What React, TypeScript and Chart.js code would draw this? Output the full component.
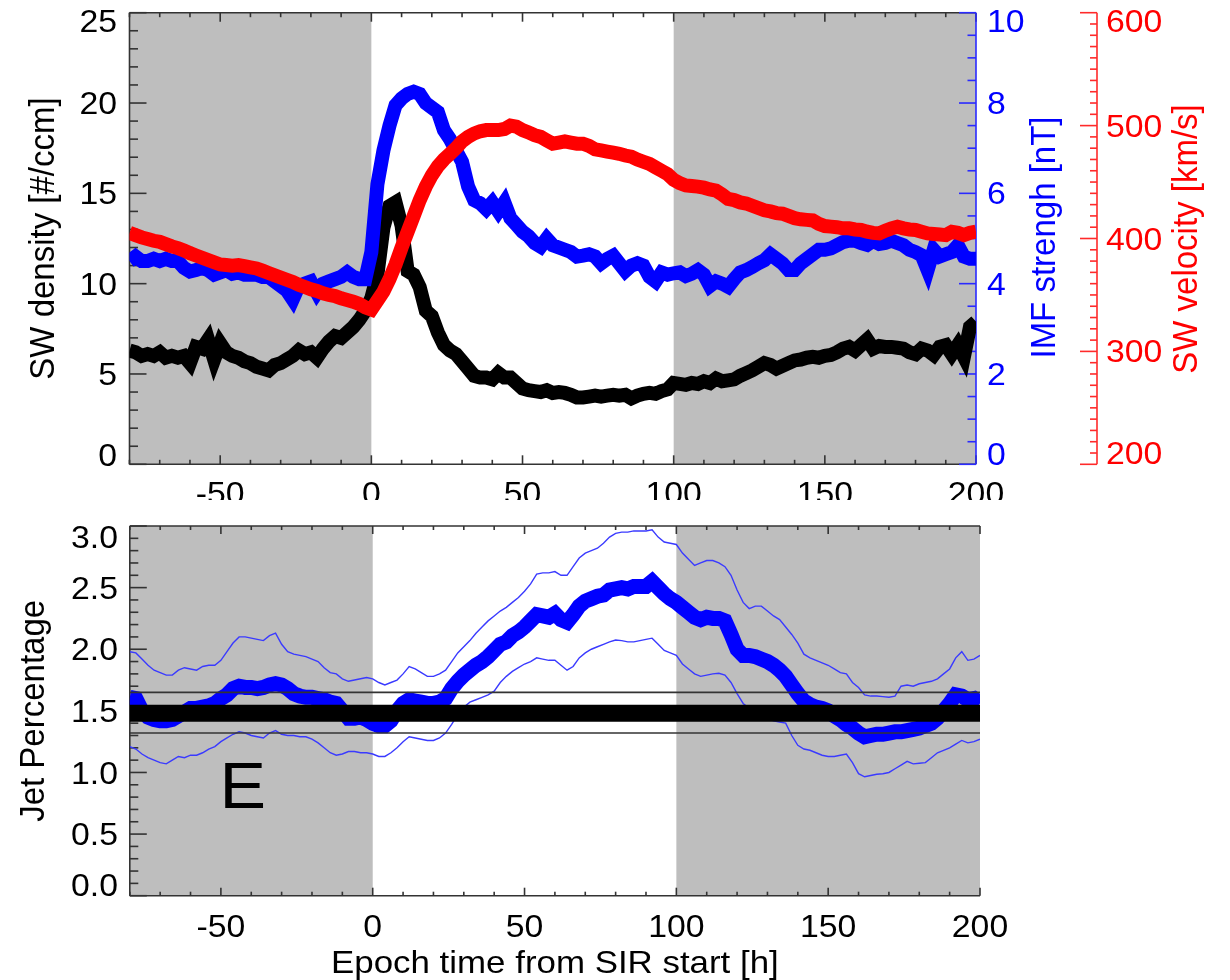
import React, { useEffect, useRef } from "react";
import { Chart, registerables } from "chart.js";

Chart.register(...registerables);

// Superposed-epoch grid: hours from SIR start, 2 h cadence (-80 ... 200)
const T_START = -80;
const T_STEP = 2;

// Solar-wind density [#/ccm]
const DENSITY = [
  6.3, 6.2, 6.0, 6.1, 6.0, 6.2, 5.9, 6.0, 5.9, 6.0,
  5.6, 6.5, 6.4, 6.9, 5.8, 6.7, 6.2, 6.0, 5.9, 5.7,
  5.6, 5.4, 5.3, 5.2, 5.5, 5.6, 5.8, 6.0, 6.3, 6.1,
  6.2, 5.9, 6.4, 6.8, 7.1, 7.0, 7.3, 7.6, 8.0, 8.5,
  9.2, 10.5, 13.1, 14.3, 14.5, 13.2, 10.7, 10.5, 9.8, 8.5,
  8.2, 7.3, 6.6, 6.3, 6.1, 5.7, 5.3, 4.9, 4.8, 4.8,
  4.7, 5.05, 4.8, 4.8, 4.5, 4.2, 4.1, 4.05, 4.0, 4.1,
  3.95, 4.0, 3.95, 3.85, 3.7, 3.7, 3.75, 3.8, 3.75, 3.8,
  3.85, 3.8, 3.85, 3.65, 3.8, 3.9, 3.95, 3.9, 4.05, 4.15,
  4.5, 4.45, 4.4, 4.5, 4.45, 4.6, 4.5, 4.75, 4.6, 4.65,
  4.7, 4.9, 5.05, 5.2, 5.4, 5.6, 5.5, 5.3, 5.45, 5.6,
  5.75, 5.8, 5.9, 5.95, 5.9, 6.0, 6.05, 6.2, 6.4, 6.5,
  6.3, 6.6, 6.9, 6.4, 6.55, 6.5, 6.5, 6.45, 6.4, 6.2,
  6.1, 6.4, 6.3, 6.05, 6.5, 6.6, 6.1, 6.6, 5.95, 7.6,
  7.9,
];

// IMF strength [nT]
const IMF = [
  4.5, 4.6, 4.5, 4.5, 4.55, 4.5, 4.55, 4.5, 4.5, 4.35,
  4.27, 4.3, 4.35, 4.3, 4.2, 4.25, 4.3, 4.22, 4.25, 4.2,
  4.2, 4.2, 4.15, 4.15, 4.05, 3.95, 3.85, 3.65, 3.95, 4.0,
  4.05, 3.8, 4.0, 4.05, 4.1, 4.15, 4.25, 4.15, 4.1, 4.1,
  4.7, 6.2, 6.95, 7.5, 7.95, 8.1, 8.2, 8.25, 8.2, 8.0,
  7.9, 7.8, 7.4, 7.2, 6.95, 6.7, 6.15, 5.85, 5.78, 5.65,
  5.8, 5.6, 5.8, 5.45, 5.3, 5.15, 5.05, 4.9, 4.82, 5.0,
  4.85, 4.8, 4.75, 4.7, 4.6, 4.62, 4.65, 4.6, 4.45, 4.55,
  4.62, 4.45, 4.28, 4.4, 4.45, 4.4, 4.15, 4.05, 4.25, 4.2,
  4.23, 4.25, 4.17, 4.22, 4.3, 4.2, 3.95, 4.05, 4.0, 3.93,
  4.1, 4.25, 4.3, 4.37, 4.45, 4.52, 4.65, 4.55, 4.45, 4.3,
  4.3, 4.45, 4.55, 4.65, 4.75, 4.75, 4.78, 4.85, 4.92, 4.95,
  4.95, 4.9, 4.86, 4.95, 4.88, 4.9, 4.95, 4.9, 4.85, 4.75,
  4.7, 4.63, 4.3, 4.75, 4.6, 4.65, 4.7, 4.85, 4.6, 4.55,
  4.55,
];

// Solar-wind velocity [km/s]
const VELOCITY = [
  405, 403, 401, 399.5, 398, 397, 395, 393, 391.5, 389.5,
  387, 385, 383, 381, 379, 377, 376.5, 376, 376.5, 375.5,
  374.5, 373.5, 371.5, 369.5, 367.5, 365.5, 363.5, 361.5, 359, 357,
  355, 353.5, 351.5, 350, 349, 347, 345.5, 344, 342, 339,
  337, 345, 353, 364, 377, 392, 406, 420, 434, 446,
  456, 464, 470, 475, 480, 486, 490, 493, 495, 496,
  496, 496, 497, 500, 499, 496, 494, 491.5, 490, 487,
  484, 485, 486, 485, 484, 484, 482, 479, 478, 477,
  476, 475, 473.5, 472.5, 470, 468, 466, 463, 460, 457,
  452, 449, 447, 446.5, 446, 445, 443.5, 442.5, 439, 435,
  434, 432, 431, 429, 427, 425, 424, 422.5, 422, 420,
  418, 417, 416.5, 416, 413, 411, 410.5, 410, 409, 409,
  408, 407.5, 406, 405, 404.5, 407, 409, 410.5, 409, 408,
  407.5, 406, 404.5, 404, 403.5, 403, 406, 405, 403, 405,
  406,
];

// Jet percentage: epoch mean and its upper / lower envelope
const JET_MEAN = [
  1.61, 1.6, 1.5, 1.45, 1.43, 1.42, 1.42, 1.43, 1.46, 1.49,
  1.52, 1.52, 1.53, 1.54, 1.56, 1.6, 1.63, 1.68, 1.7, 1.69,
  1.69, 1.68, 1.69, 1.71, 1.72, 1.71, 1.68, 1.64, 1.62, 1.61,
  1.61, 1.6, 1.59, 1.57, 1.56, 1.5, 1.44, 1.44, 1.45, 1.43,
  1.4, 1.38, 1.38, 1.42, 1.5, 1.56, 1.59, 1.58, 1.57, 1.56,
  1.56, 1.57, 1.6, 1.68, 1.74, 1.79, 1.83, 1.87, 1.9, 1.94,
  1.99, 2.04, 2.06, 2.11, 2.14, 2.18, 2.23, 2.28, 2.27, 2.26,
  2.29, 2.24, 2.22, 2.28, 2.35, 2.39, 2.41, 2.43, 2.44, 2.48,
  2.49, 2.5, 2.49, 2.51, 2.51, 2.51, 2.55, 2.5, 2.45, 2.41,
  2.38, 2.34, 2.3, 2.26, 2.24, 2.26, 2.25, 2.25, 2.23, 2.12,
  2.0, 1.95, 1.95, 1.94, 1.92, 1.9, 1.87, 1.83, 1.78, 1.71,
  1.64, 1.58, 1.55, 1.53, 1.52, 1.5, 1.46, 1.43, 1.39, 1.36,
  1.32, 1.29, 1.3, 1.31, 1.31, 1.32, 1.33, 1.33, 1.34, 1.35,
  1.36, 1.38, 1.4, 1.44, 1.5, 1.56, 1.63, 1.62, 1.59, 1.6,
  1.56,
];

const JET_UPPER = [
  1.98, 1.97, 1.92, 1.87, 1.83, 1.81, 1.79, 1.79, 1.83, 1.85,
  1.84, 1.83, 1.86, 1.87, 1.87, 1.91, 1.98, 2.05, 2.1, 2.1,
  2.09, 2.08, 2.07, 2.11, 2.13, 2.04, 1.98, 1.96, 1.95, 1.94,
  1.92, 1.9, 1.85, 1.81, 1.8, 1.76, 1.74, 1.75, 1.76, 1.77,
  1.76, 1.73, 1.71, 1.73, 1.75, 1.8, 1.86, 1.84, 1.81, 1.78,
  1.78, 1.8, 1.83, 1.9, 1.97, 2.02, 2.07, 2.13, 2.18, 2.23,
  2.27, 2.31, 2.34, 2.38, 2.42, 2.47, 2.53, 2.61, 2.62, 2.62,
  2.63, 2.6, 2.6, 2.67, 2.74, 2.78, 2.8, 2.82, 2.86, 2.91,
  2.94, 2.95, 2.95, 2.96, 2.96, 2.96, 2.97, 2.91, 2.87, 2.86,
  2.85, 2.78, 2.73, 2.68, 2.7, 2.72, 2.72, 2.7, 2.67, 2.6,
  2.48, 2.38, 2.33, 2.35, 2.35, 2.31, 2.27, 2.24, 2.18, 2.12,
  2.05, 1.96, 1.93, 1.91, 1.89, 1.87, 1.84, 1.81, 1.8, 1.73,
  1.69, 1.63, 1.62, 1.62, 1.615, 1.61, 1.62, 1.7, 1.71, 1.7,
  1.72, 1.73, 1.74, 1.76, 1.8, 1.84, 1.93, 1.98, 1.91, 1.92,
  1.95,
];

const JET_LOWER = [
  1.21, 1.19, 1.15, 1.12, 1.1, 1.08, 1.07, 1.1, 1.13, 1.12,
  1.14, 1.14, 1.16, 1.19, 1.21, 1.25, 1.28, 1.31, 1.33, 1.32,
  1.3, 1.29, 1.28, 1.32, 1.34, 1.31, 1.3, 1.3, 1.29, 1.29,
  1.27, 1.24, 1.2, 1.16, 1.14, 1.15, 1.17, 1.17, 1.16, 1.16,
  1.15, 1.13, 1.13, 1.16, 1.2, 1.25, 1.29, 1.28, 1.27, 1.26,
  1.26, 1.28, 1.32, 1.39, 1.47, 1.53, 1.57, 1.59, 1.61, 1.63,
  1.66, 1.73, 1.78, 1.82, 1.85, 1.88, 1.9, 1.93, 1.92, 1.91,
  1.91, 1.87, 1.83, 1.86, 1.93, 1.97, 2.0, 2.02, 2.04, 2.06,
  2.075, 2.07, 2.06, 2.06, 2.07, 2.08, 2.09, 2.04, 1.99, 1.97,
  1.95, 1.88, 1.84, 1.8, 1.78, 1.79, 1.8, 1.805, 1.79, 1.73,
  1.64, 1.56, 1.52, 1.49, 1.46, 1.44, 1.42, 1.41, 1.4, 1.3,
  1.22, 1.19, 1.18, 1.16, 1.14, 1.13, 1.13, 1.14, 1.15, 1.08,
  0.99, 0.965, 0.975, 0.985, 0.99, 1.0, 1.03, 1.06, 1.09, 1.07,
  1.075, 1.08, 1.12, 1.16, 1.18, 1.2, 1.23, 1.26, 1.24, 1.25,
  1.27,
];

// Overall jet percentage and its spread
const JET_AVERAGE = 1.48;
const JET_AVERAGE_HIGH = 1.65;
const JET_AVERAGE_LOW = 1.32;

// Shaded epoch intervals [h]
const SHADED_SPANS = [
  [-80, 0],
  [100, 200],
];

// Axis ticks
const X_TICKS = [-50, 0, 50, 100, 150, 200];
const DENSITY_TICKS = [0, 5, 10, 15, 20, 25];
const IMF_TICKS = [0, 2, 4, 6, 8, 10];
const VELOCITY_TICKS = [200, 300, 400, 500, 600];
const JET_TICKS = [0, 0.5, 1, 1.5, 2, 2.5, 3];

const FONT = '"Liberation Sans", Arial, Helvetica, sans-serif';
const WIDEN = 1.09; // glyphs are drawn slightly wide
const SHADE = "#bebebe";
const AXIS = "#333333";
const BLUE = "#0000ff";
const RED = "#ff0000";
const VEL_AXIS_X = 1097;

const series = (values: number[]) =>
  values.map((v, i) => ({ x: T_START + T_STEP * i, y: v }));
const flat = (v: number) => [
  { x: T_START, y: v },
  { x: 200, y: v },
];

function seg(ctx: CanvasRenderingContext2D, x1: number, y1: number, x2: number, y2: number) {
  ctx.beginPath();
  ctx.moveTo(x1, y1);
  ctx.lineTo(x2, y2);
  ctx.stroke();
}

// text whose digit/cap middle sits at y
function label(
  ctx: CanvasRenderingContext2D,
  s: string,
  x: number,
  y: number,
  size: number,
  color: string,
  align: CanvasTextAlign
) {
  ctx.save();
  ctx.translate(x, y + 0.358 * size);
  ctx.scale(WIDEN, 1);
  ctx.font = `${size}px ${FONT}`;
  ctx.fillStyle = color;
  ctx.textAlign = align;
  ctx.textBaseline = "alphabetic";
  ctx.fillText(s, 0, 0);
  ctx.restore();
}

function baselineText(
  ctx: CanvasRenderingContext2D,
  s: string,
  x: number,
  baseY: number,
  size: number,
  color: string,
  align: CanvasTextAlign
) {
  ctx.save();
  ctx.translate(x, baseY);
  ctx.scale(WIDEN, 1);
  ctx.font = `${size}px ${FONT}`;
  ctx.fillStyle = color;
  ctx.textAlign = align;
  ctx.textBaseline = "alphabetic";
  ctx.fillText(s, 0, 0);
  ctx.restore();
}

// rotated title reading bottom-to-top, baseline at x
function vTitle(
  ctx: CanvasRenderingContext2D,
  s: string,
  baseX: number,
  centerY: number,
  size: number,
  color: string
) {
  ctx.save();
  ctx.translate(baseX, centerY);
  ctx.rotate(-Math.PI / 2);
  ctx.scale(1, WIDEN);
  ctx.font = `${size}px ${FONT}`;
  ctx.fillStyle = color;
  ctx.textAlign = "center";
  ctx.textBaseline = "alphabetic";
  ctx.fillText(s, 0, 0);
  ctx.restore();
}

function shade(chart: any) {
  const { ctx, chartArea: a } = chart;
  const sx = chart.scales.x;
  ctx.fillStyle = SHADE;
  for (const [s, e] of SHADED_SPANS) {
    const x1 = sx.getPixelForValue(s);
    const x2 = sx.getPixelForValue(e);
    ctx.fillRect(x1, a.top, x2 - x1, a.bottom - a.top);
  }
}

function xFrame(chart: any, major: number, minor: number) {
  const { ctx, chartArea: a } = chart;
  const sx = chart.scales.x;
  ctx.strokeStyle = AXIS;
  ctx.lineWidth = 1.6;
  seg(ctx, a.left, a.top, a.right, a.top);
  seg(ctx, a.left, a.bottom, a.right, a.bottom);
  seg(ctx, a.left, a.top, a.left, a.bottom);
  for (let v = -80; v <= 200; v += 10) {
    const px = sx.getPixelForValue(v);
    const len = v % 50 === 0 ? major : minor;
    seg(ctx, px, a.bottom, px, a.bottom - len);
    seg(ctx, px, a.top, px, a.top + len);
  }
}

// shift end labels so they stay within the axis extent
function endShift(py: number, top: number, bottom: number, up: number, down: number) {
  if (Math.abs(py - top) < 1) return py + up;
  if (Math.abs(py - bottom) < 1) return py - down;
  return py;
}

const topDecor = {
  id: "topDecor",
  beforeDatasetsDraw(chart: any) {
    const { ctx, chartArea: a } = chart;
    const yDen = chart.scales.yDen;
    const yImf = chart.scales.yImf;
    const yVel = chart.scales.yVel;
    ctx.save();
    shade(chart);
    xFrame(chart, 9, 4.5);
    for (let v = 0; v <= 25; v++) {
      const py = yDen.getPixelForValue(v);
      seg(ctx, a.left, py, a.left + (v % 5 === 0 ? 17 : 8.5), py);
    }
    ctx.strokeStyle = "#2a2aff";
    ctx.lineWidth = 1.6;
    seg(ctx, a.right, a.top, a.right, a.bottom);
    for (let i = 0; i <= 20; i++) {
      const py = yImf.getPixelForValue(i * 0.5);
      seg(ctx, a.right, py, a.right - (i % 4 === 0 ? 17 : 8.5), py);
    }
    ctx.strokeStyle = "#ff2a2a";
    seg(ctx, VEL_AXIS_X, a.top, VEL_AXIS_X, a.bottom);
    for (let v = 200; v <= 600; v += 10) {
      const py = yVel.getPixelForValue(v);
      seg(ctx, VEL_AXIS_X, py, VEL_AXIS_X - (v % 100 === 0 ? 17 : 7), py);
    }
    ctx.restore();
  },
  afterDraw(chart: any) {
    const { ctx, chartArea: a } = chart;
    const sx = chart.scales.x;
    ctx.save();
    for (const v of DENSITY_TICKS) {
      const py = endShift(chart.scales.yDen.getPixelForValue(v), a.top, a.bottom, 8, 9.5);
      label(ctx, String(v), 117, py, 31, "#000", "right");
    }
    for (const v of IMF_TICKS) {
      const py = endShift(chart.scales.yImf.getPixelForValue(v), a.top, a.bottom, 8, 10.5);
      label(ctx, String(v), 987, py, 31, BLUE, "left");
    }
    for (const v of VELOCITY_TICKS) {
      const py = endShift(chart.scales.yVel.getPixelForValue(v), a.top, a.bottom, 8, 11);
      label(ctx, String(v), 1106, py, 31, RED, "left");
    }
    for (const v of X_TICKS) {
      label(ctx, String(v), sx.getPixelForValue(v), a.bottom + 29, 31, "#000", "center");
    }
    const midY = (a.top + a.bottom) / 2;
    vTitle(ctx, "SW density [#/ccm]", 53.5, midY, 33, "#000");
    vTitle(ctx, "IMF strengh [nT]", 1055, midY - 1, 33, BLUE);
    vTitle(ctx, "SW velocity [km/s]", 1197, midY + 0.5, 33, RED);
    ctx.restore();
  },
};

const bottomDecor = {
  id: "bottomDecor",
  beforeDatasetsDraw(chart: any) {
    const { ctx, chartArea: a } = chart;
    const sy = chart.scales.y;
    ctx.save();
    shade(chart);
    xFrame(chart, 8, 4);
    for (let i = 0; i <= 30; i++) {
      const py = sy.getPixelForValue(i / 10);
      seg(ctx, a.left, py, a.left + (i % 5 === 0 ? 17 : 8.5), py);
    }
    ctx.restore();
  },
  afterDraw(chart: any) {
    const { ctx, chartArea: a } = chart;
    const sx = chart.scales.x;
    const sy = chart.scales.y;
    ctx.save();
    for (const v of JET_TICKS) {
      const py = endShift(sy.getPixelForValue(v), a.top, a.bottom, 10.7, 10.7);
      label(ctx, v.toFixed(1), 118, py, 31, "#000", "right");
    }
    for (const v of X_TICKS) {
      label(ctx, String(v), sx.getPixelForValue(v), a.bottom + 30.5, 31, "#000", "center");
    }
    baselineText(ctx, "Epoch time from SIR start [h]", (a.left + a.right) / 2, a.bottom + 77, 32, "#000", "center");
    vTitle(ctx, "Jet Percentage", 43.5, (a.top + a.bottom) / 2, 33, "#000");
    baselineText(ctx, "E", 219.5, 308, 64, "#000", "left");
    ctx.restore();
  },
};

const lineStyle = {
  pointRadius: 0,
  pointHoverRadius: 0,
  tension: 0,
  fill: false,
  borderJoinStyle: "miter" as const,
};

function topConfig(): any {
  return {
    type: "line",
    data: {
      datasets: [
        { label: "SW velocity", data: series(VELOCITY), yAxisID: "yVel", borderColor: RED, borderWidth: 14, order: 0, ...lineStyle },
        { label: "IMF strength", data: series(IMF), yAxisID: "yImf", borderColor: BLUE, borderWidth: 14, order: 1, ...lineStyle },
        { label: "SW density", data: series(DENSITY), yAxisID: "yDen", borderColor: "#000", borderWidth: 14, order: 2, ...lineStyle },
      ],
    },
    options: {
      animation: false,
      responsive: false,
      devicePixelRatio: 1,
      events: [],
      layout: { padding: { left: 129.5, right: 254, top: 12.7, bottom: 35.7 } },
      scales: {
        x: { type: "linear", min: -80, max: 200, display: false },
        yDen: { type: "linear", min: 0, max: 25, display: false },
        yImf: { type: "linear", min: 0, max: 10, display: false },
        yVel: { type: "linear", min: 200, max: 600, display: false },
      },
      plugins: { legend: { display: false }, tooltip: { enabled: false } },
    },
    plugins: [topDecor],
  };
}

function bottomConfig(): any {
  return {
    type: "line",
    data: {
      datasets: [
        { label: "average high", data: flat(JET_AVERAGE_HIGH), borderColor: "#333", borderWidth: 1.6, order: 0, ...lineStyle },
        { label: "average low", data: flat(JET_AVERAGE_LOW), borderColor: "#333", borderWidth: 1.6, order: 1, ...lineStyle },
        { label: "average", data: flat(JET_AVERAGE), borderColor: "#000", borderWidth: 17, order: 2, ...lineStyle },
        { label: "jet percentage", data: series(JET_MEAN), borderColor: BLUE, borderWidth: 15, order: 3, ...lineStyle },
        { label: "upper", data: series(JET_UPPER), borderColor: "#3a3aff", borderWidth: 1.4, order: 4, ...lineStyle },
        { label: "lower", data: series(JET_LOWER), borderColor: "#3a3aff", borderWidth: 1.4, order: 5, ...lineStyle },
      ],
    },
    options: {
      animation: false,
      responsive: false,
      devicePixelRatio: 1,
      events: [],
      layout: { padding: { left: 129.8, right: 250, top: 26, bottom: 84.3 } },
      scales: {
        x: { type: "linear", min: -80, max: 200, display: false },
        y: { type: "linear", min: 0, max: 3, display: false },
      },
      plugins: { legend: { display: false }, tooltip: { enabled: false } },
    },
    plugins: [bottomDecor],
  };
}

export default function App() {
  const topRef = useRef<HTMLCanvasElement>(null);
  const bottomRef = useRef<HTMLCanvasElement>(null);

  useEffect(() => {
    const top = new Chart(topRef.current as HTMLCanvasElement, topConfig());
    const bottom = new Chart(bottomRef.current as HTMLCanvasElement, bottomConfig());
    return () => {
      top.destroy();
      bottom.destroy();
    };
  }, []);

  return (
    <div style={{ position: "absolute", left: 0, top: 0, width: 1230, height: 980, background: "#fff", overflow: "hidden" }}>
      <canvas
        ref={topRef}
        width={1230}
        height={500}
        style={{ position: "absolute", left: 0, top: 0, width: 1230, height: 500 }}
      />
      <canvas
        ref={bottomRef}
        width={1230}
        height={480}
        style={{ position: "absolute", left: 0, top: 500, width: 1230, height: 480 }}
      />
    </div>
  );
}
